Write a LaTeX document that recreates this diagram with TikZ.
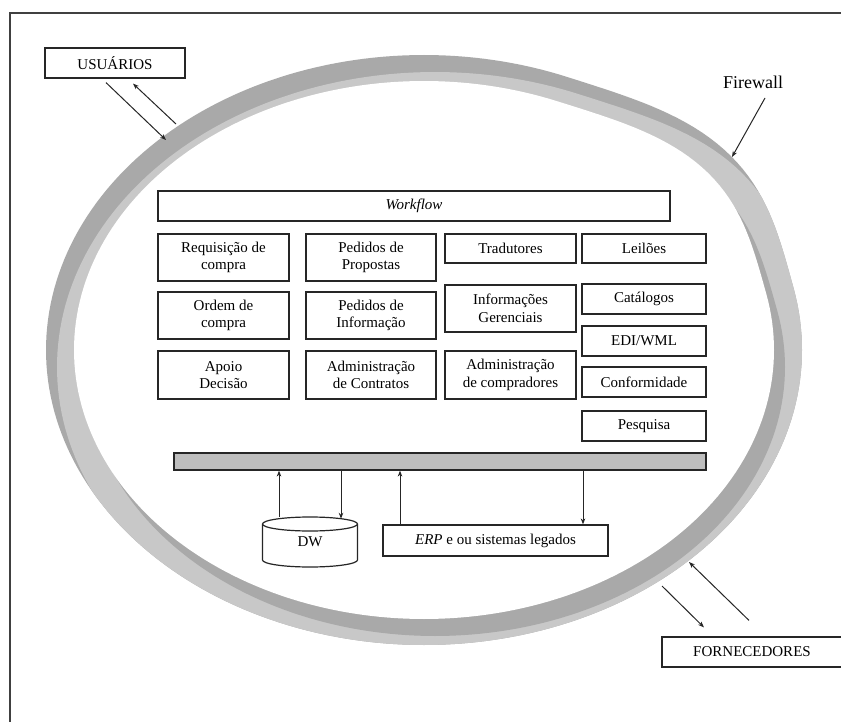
\documentclass[tikz,border=0pt]{standalone}
\usepackage{fontspec}
\setmainfont{Liberation Serif}
\usetikzlibrary{arrows.meta}
\definecolor{ringdark}{HTML}{A9A9A9}
\definecolor{ringlight}{HTML}{C8C8C8}
\definecolor{busgray}{HTML}{BEBEBE}
\definecolor{framegray}{HTML}{404040}
\begin{document}
\begin{tikzpicture}[x=1pt,y=-1pt,
  declare function={bmp(\t)=1+0.045*(abs(\t-40)<28)*cos((\t-40)*3.2143)*cos((\t-40)*3.2143);},
  box/.style={draw=black!85, line width=1.2pt, fill=white, align=center, inner sep=0pt,
    font=\fontsize{15}{17.5}\selectfont},
  conn/.style={-{Stealth[length=6pt,width=4.5pt]}, line width=1pt, black!85},
  ringpath/.style={domain=0:360, samples=241, variable=\t}]
\useasboundingbox (0,0) rectangle (841,722);
\clip (0,0) rectangle (841,722);
\fill[white] (0,0) rectangle (841,722);

% frame
\draw[framegray, line width=1.3pt] (10,722) -- (10,13) -- (841,13);

% firewall ring: outer region dark, light band = ring shifted, then inner region white
\fill[ringdark] plot[ringpath] ({424+378*bmp(\t)*cos(\t)}, {350-295*bmp(\t)*sin(\t)}) -- cycle;
\begin{scope}
  \clip plot[ringpath] ({424+378*bmp(\t)*cos(\t)}, {350-295*bmp(\t)*sin(\t)}) -- cycle;
  \fill[ringlight] plot[ringpath] ({435+378*bmp(\t)*cos(\t)}, {367-295*bmp(\t)*sin(\t)}) -- cycle;
  \fill[ringdark] plot[ringpath] ({435+350*bmp(\t)*cos(\t)}, {367-269*bmp(\t)*sin(\t)}) -- cycle;
\end{scope}
\fill[white] plot[ringpath] ({424+350*bmp(\t)*cos(\t)}, {350-269*bmp(\t)*sin(\t)}) -- cycle;

% outside actors
\node[box, minimum width=140pt, minimum height=30pt] (usu) at (115,63) {USUÁRIOS};
\coordinate (usuin) at (166,140);
\coordinate (usuout) at (176,124);
\draw[conn] ([shift={(-9pt,-4pt)}]usu.south) -- (usuin);
\draw[conn] (usuout) -- ([shift={(18pt,-5pt)}]usu.south);

\node[font=\fontsize{18}{20}\selectfont, inner sep=0pt] (fw) at (753,82) {Firewall};
\coordinate (fwtip) at (732,157);
\draw[conn] ([shift={(12pt,-16pt)}]fw.center) -- (fwtip);

\node[box, minimum width=180pt, minimum height=30pt] (forn) at (752,652) {FORNECEDORES};
\coordinate (fornout) at (662,586);
\coordinate (fornin) at (689,562);
\draw[conn] (fornout) -- ([shift={(-48pt,9pt)}]forn.north);
\draw[conn] ([shift={(-3pt,16pt)}]forn.north) -- (fornin);

% workflow
\node[box, minimum width=512pt, minimum height=30pt] (wf) at (414,206) {\textit{Workflow}};

% column 1
\node[box, minimum width=131pt, minimum height=47pt] (req) at (223.5,257.5) {Requisição de\\compra};
\node[box, minimum width=131pt, minimum height=47pt] (ord) at (223.5,315.5) {Ordem de\\compra};
\node[box, minimum width=131pt, minimum height=48pt] (apo) at (223.5,375) {Apoio\\Decisão};
% column 2
\node[box, minimum width=130pt, minimum height=47pt] (ped) at (371,257.5) {Pedidos de\\Propostas};
\node[box, minimum width=130pt, minimum height=47pt] (pinf) at (371,315.5) {Pedidos de\\Informação};
\node[box, minimum width=130pt, minimum height=48pt] (adc) at (371,375) {Administração\\de Contratos};
% column 3
\node[box, minimum width=131pt, minimum height=29pt] (trad) at (510.5,248.5) {Tradutores};
\node[box, minimum width=131pt, minimum height=47pt] (infg) at (510.5,308.5) {Informações\\Gerenciais};
\node[box, minimum width=131pt, minimum height=48pt] (adcomp) at (510.5,375) {Administração\\de compradores};
% column 4
\node[box, minimum width=124pt, minimum height=29pt] (leil) at (644,248.5) {Leilões};
\node[box, minimum width=124pt, minimum height=30pt] (cat) at (644,299) {Catálogos};
\node[box, minimum width=124pt, minimum height=30pt] (edi) at (644,341) {EDI/WML};
\node[box, minimum width=124pt, minimum height=30pt] (conf) at (644,382) {Conformidade};
\node[box, minimum width=124pt, minimum height=30pt] (pesq) at (644,426) {Pesquisa};

% bus
\node[draw=black!85, line width=1.2pt, fill=busgray, minimum width=532pt, minimum height=17pt, inner sep=0pt] (bus) at (440,461.5) {};

% DW cylinder
\draw[line width=1.2pt, draw=black!85, fill=white] (262.5,524) -- (262.5,560)
  arc[start angle=180, end angle=0, x radius=47.5, y radius=7] -- (357.5,524)
  arc[start angle=0, end angle=-180, x radius=47.5, y radius=7] -- cycle;
\draw[line width=1.2pt, draw=black!85] (262.5,524)
  arc[start angle=180, end angle=0, x radius=47.5, y radius=7];
\node[minimum width=95pt, minimum height=50pt, inner sep=0pt, font=\fontsize{15}{17.5}\selectfont] (dw) at (310,542) {DW};

% ERP
\node[box, minimum width=225pt, minimum height=31pt] (erp) at (495.5,540.5) {\textit{ERP} e ou sistemas legados};

% bus connectors
\draw[conn] ([xshift=-31pt]dw.north) -- ([xshift=-31pt]dw.north |- bus.south);
\draw[conn] ([xshift=31pt]dw.north |- bus.south) -- ([xshift=31pt,yshift=-2pt]dw.north);
\draw[conn] ([xshift=-95.5pt]erp.north) -- ([xshift=-95.5pt]erp.north |- bus.south);
\draw[conn] ([xshift=87.5pt]erp.north |- bus.south) -- ([xshift=87.5pt]erp.north);
\end{tikzpicture}
\end{document}
